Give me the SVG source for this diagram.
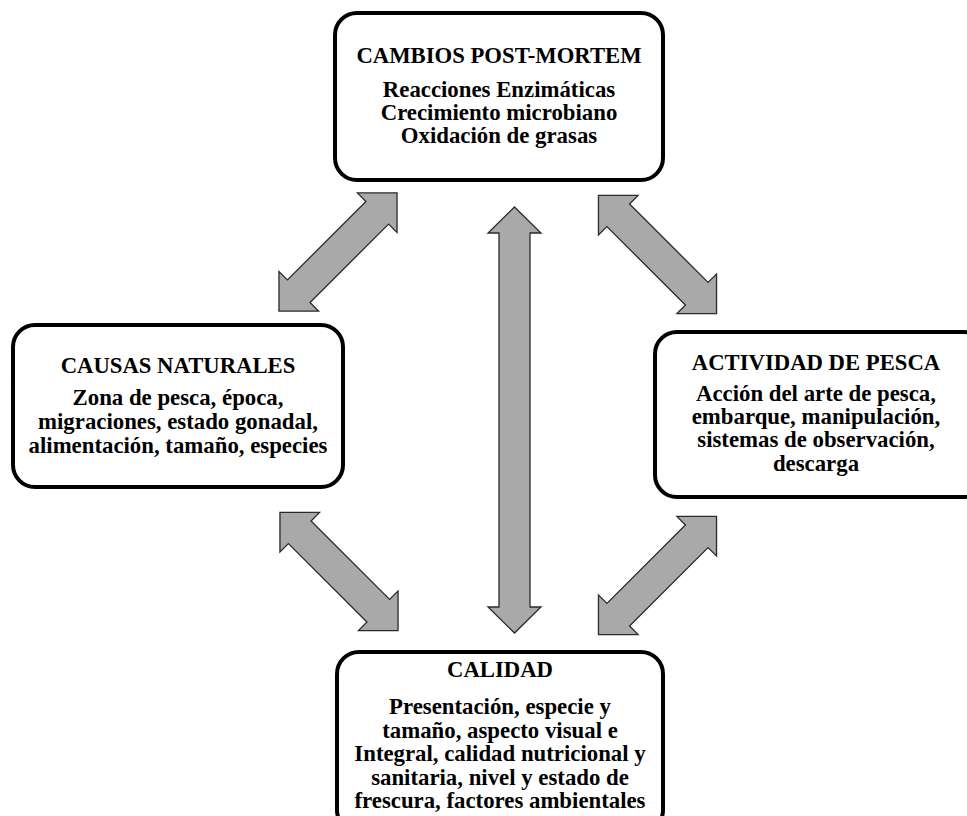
<svg xmlns="http://www.w3.org/2000/svg" width="967" height="816" viewBox="0 0 967 816">
<defs>
<style>
.box{fill:#ffffff;stroke:#000000;stroke-width:4}
.arr{fill:#a9a9a9;stroke:#2a2a2a;stroke-width:1.3;stroke-linejoin:miter}
text{font-family:"Liberation Serif","Times New Roman",serif;font-weight:bold;fill:#000000;text-anchor:middle}
.t{font-size:22.7px}
.b{font-size:22.8px}
</style>
<path id="diag" d="M-83.5,0 L-55.5,-28 L-55.5,-16 L55.5,-16 L55.5,-28 L83.5,0 L55.5,28 L55.5,16 L-55.5,16 L-55.5,28 Z"/>
</defs>
<rect width="967" height="816" fill="#ffffff"/>
<g id="connectors">
<use href="#diag" class="arr" transform="translate(338,252) rotate(-45)"/>
<use href="#diag" class="arr" transform="translate(657.5,254.5) rotate(45)"/>
<use href="#diag" class="arr" transform="translate(339,571.5) rotate(45)"/>
<use href="#diag" class="arr" transform="translate(657.5,575.5) rotate(-45)"/>
<path class="arr" d="M514.5,207 L541,233 L530,233 L530,607 L541,607 L514.5,633 L488,607 L499,607 L499,233 L488,233 Z"/>
</g>
<g id="node-cambios">
<rect class="box" x="335" y="13" width="328" height="167" rx="22"/>
<text class="t" x="499" y="63">CAMBIOS POST-MORTEM</text>
<text class="b" x="499" y="97">Reacciones Enzimáticas</text>
<text class="b" x="499" y="120">Crecimiento microbiano</text>
<text class="b" x="499" y="143">Oxidación de grasas</text>
</g>
<g id="node-causas">
<rect class="box" x="13" y="325" width="330" height="162" rx="22"/>
<text class="t" x="178" y="373">CAUSAS NATURALES</text>
<text class="b" x="178" y="405">Zona de pesca, época,</text>
<text class="b" x="178" y="429">migraciones, estado gonadal,</text>
<text class="b" x="178" y="453">alimentación, tamaño, especies</text>
</g>
<g id="node-actividad">
<rect class="box" x="655" y="332" width="330" height="165" rx="22"/>
<text class="t" x="816" y="370">ACTIVIDAD DE PESCA</text>
<text class="b" x="816" y="401">Acción del arte de pesca,</text>
<text class="b" x="816" y="424">embarque, manipulación,</text>
<text class="b" x="816" y="447">sistemas de observación,</text>
<text class="b" x="816" y="471">descarga</text>
</g>
<g id="node-calidad">
<rect class="box" x="337" y="652" width="326" height="180" rx="22"/>
<text class="t" x="500" y="677">CALIDAD</text>
<text class="b" x="500" y="714">Presentación, especie y</text>
<text class="b" x="500" y="738">tamaño, aspecto visual e</text>
<text class="b" x="500" y="761">Integral, calidad nutricional y</text>
<text class="b" x="500" y="785">sanitaria, nivel y estado de</text>
<text class="b" x="500" y="808">frescura, factores ambientales</text>
</g>
</svg>
